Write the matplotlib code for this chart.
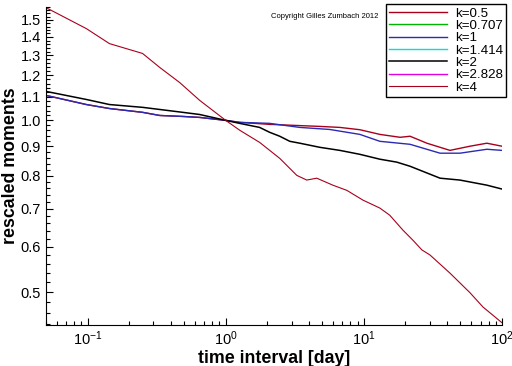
import matplotlib
matplotlib.use("Agg")
import matplotlib.pyplot as plt
from matplotlib.ticker import MultipleLocator, FormatStrFormatter, LogLocator, LogFormatterMathtext, NullFormatter

plt.rcParams['font.family'] = ['Liberation Sans', 'DejaVu Sans']

# k = 4 (steepest)
x_k4 = [0.05, 0.098, 0.144, 0.25, 0.333, 0.464, 0.648, 1.0, 1.263, 1.76, 2.46, 3.27, 3.86, 4.56,
        5.96, 7.53, 9.84, 13.06, 15.4, 19.2, 22.6, 26.3, 30.1, 42.0, 58.6, 72.8, 100.0]
y_k4 = [1.576, 1.448, 1.363, 1.31, 1.238, 1.165, 1.084, 1.0, 0.961, 0.915, 0.858, 0.801, 0.786, 0.792,
        0.770, 0.754, 0.725, 0.702, 0.682, 0.642, 0.617, 0.593, 0.581, 0.540, 0.499, 0.471, 0.442]

# k = 2
x_k2 = [0.05, 0.098, 0.144, 0.25, 0.488, 0.648, 1.0, 1.263, 1.76, 2.08, 2.46, 2.91, 3.44, 4.8, 6.7,
        9.36, 13.06, 17.3, 21.6, 35.6, 49.6, 77.7, 100.0]
y_k2 = [1.124, 1.088, 1.066, 1.054, 1.033, 1.024, 1.0, 0.988, 0.972, 0.953, 0.938, 0.919, 0.912, 0.897,
        0.886, 0.872, 0.855, 0.845, 0.831, 0.792, 0.786, 0.770, 0.758]

# k = 1
x_k1 = [0.05, 0.098, 0.144, 0.25, 0.333, 0.488, 0.648, 1.0, 1.263, 2.08, 3.44, 5.66, 9.36, 13.06,
        21.6, 35.6, 49.6, 77.7, 100.0]
y_k1 = [1.106, 1.066, 1.049, 1.033, 1.020, 1.016, 1.012, 1.0, 0.992, 0.988, 0.972, 0.964, 0.945, 0.919,
        0.908, 0.876, 0.876, 0.890, 0.886]

# k = 0.5
x_k05 = [0.05, 0.098, 0.144, 0.25, 0.333, 0.488, 0.648, 1.0, 1.263, 2.08, 4.8, 6.7, 9.36, 13.06, 18.3,
         21.6, 28.6, 42.0, 58.6, 77.7, 100.0]
y_k05 = [1.106, 1.066, 1.049, 1.033, 1.020, 1.016, 1.012, 1.0, 0.992, 0.984, 0.976, 0.972, 0.963, 0.945,
         0.934, 0.938, 0.912, 0.886, 0.901, 0.912, 0.901]

labels = ["k=0.5", "k=0.707", "k=1", "k=1.414", "k=2", "k=2.828", "k=4"]
colors = ["#a8001c", "#00b400", "#2a2ab4", "#00e0e0", "#000000", "#e000e0", "#a8001c"]
series_x = [x_k05, [], x_k1, [], x_k2, [], x_k4]
series_y = [y_k05, [], y_k1, [], y_k2, [], y_k4]
widths = [1.0, 1.0, 1.0, 1.0, 1.1, 1.0, 0.8]

fig = plt.figure(figsize=(5.12, 3.66), dpi=100)
ax = fig.add_axes([46/512, 1-325/366, 456/512, 318/366])

for xs, ys, lab, c, w in zip(series_x, series_y, labels, colors, widths):
    ax.plot(xs, ys, color=c, lw=w, label=lab)

ax.set_xscale('log')
ax.set_yscale('log')
ax.set_xlim(0.05, 100)
ax.set_ylim(0.438, 1.58)

ax.yaxis.set_major_locator(MultipleLocator(0.1))
ax.yaxis.set_minor_locator(MultipleLocator(0.02))
ax.yaxis.set_major_formatter(FormatStrFormatter('%.1f'))
ax.yaxis.set_minor_formatter(NullFormatter())
ax.xaxis.set_major_locator(LogLocator(base=10))
ax.xaxis.set_minor_locator(LogLocator(base=10, subs=range(2, 10)))
ax.xaxis.set_major_formatter(LogFormatterMathtext())
ax.xaxis.set_minor_formatter(NullFormatter())

ax.spines['top'].set_visible(False)
ax.spines['right'].set_visible(False)
ax.tick_params(which='both', direction='in', labelsize=10.5, width=0.8)
ax.tick_params(which='major', length=5)
ax.tick_params(which='minor', length=3)

ax.set_xlabel("time interval [day]", fontsize=12.8, fontweight='bold', labelpad=1)
ax.set_ylabel("rescaled moments", fontsize=12.8, fontweight='bold', labelpad=1)

fig.text(378/512, 1-16/366, "Copyright Gilles Zumbach 2012", fontsize=5.5, ha='right', va='center')

leg = fig.legend(loc='upper right', bbox_to_anchor=(506/512, 1-4/366), fontsize=9.6,
                 frameon=True, fancybox=False, edgecolor='black', framealpha=1,
                 handlelength=4.3, handletextpad=0.6, labelspacing=0.0, borderpad=0.25,
                 borderaxespad=0)
leg.get_frame().set_linewidth(1.0)

fig.savefig("out.png", dpi=100)
